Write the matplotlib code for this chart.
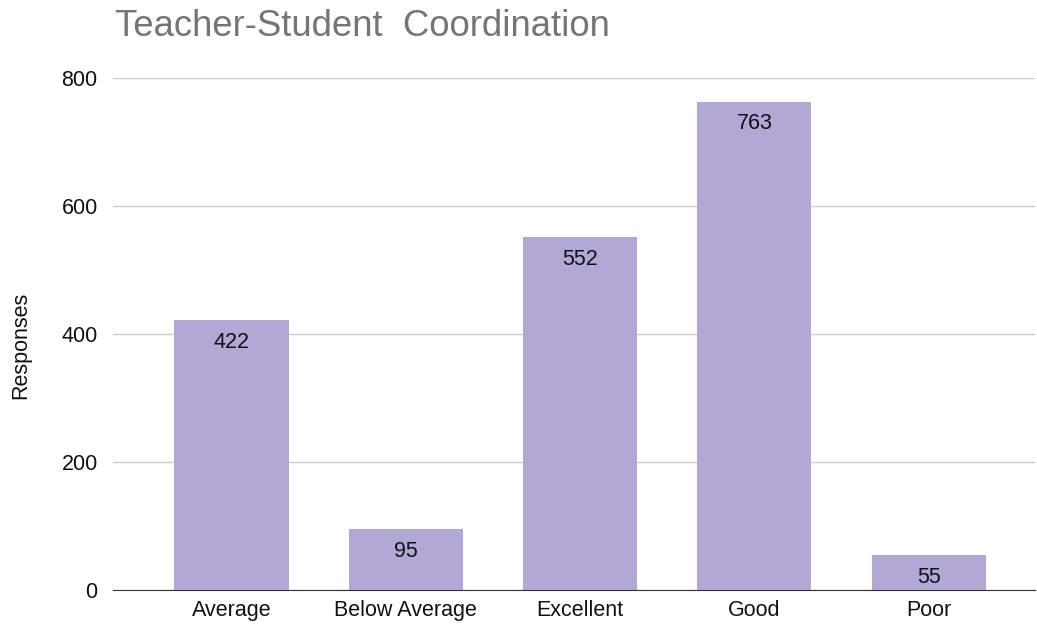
import numpy as np
import matplotlib.pyplot as plt

plt.rcParams['font.family'] = ['Liberation Sans', 'DejaVu Sans']

categories = ['Average', 'Below Average', 'Excellent', 'Good', 'Poor']
responses = [422, 95, 552, 763, 55]

fig = plt.figure(figsize=(10.37, 6.30), dpi=100)
ax = fig.add_axes([113 / 1037, 40 / 630, 922 / 1037, 512 / 630])

x = np.arange(len(categories))
bars = ax.bar(x, responses, width=0.655, color='#b3a7d6', zorder=2)

for b, v in zip(bars, responses):
    ax.annotate(str(v), (b.get_x() + b.get_width() / 2, v), xytext=(0, -8.5),
                textcoords='offset points', ha='center', va='top',
                fontsize=15.5, color='#111111')

ax.set_xlim(-0.68, 4.61)
ax.set_ylim(0, 800)
ax.set_yticks([0, 200, 400, 600, 800])
ax.set_xticks(x)
ax.set_xticklabels(categories)
ax.tick_params(axis='both', length=0, labelsize=15.5, colors='#111111')
ax.tick_params(axis='y', pad=11)
ax.tick_params(axis='x', pad=7)

ax.grid(axis='y', color='#cccccc', linewidth=1, zorder=0)
for s in ['top', 'right', 'left']:
    ax.spines[s].set_visible(False)
ax.spines['bottom'].set_color('#333333')
ax.spines['bottom'].set_zorder(3)

ax.set_ylabel('Responses', fontsize=15.5, color='#111111')
ax.yaxis.set_label_coords(-0.089, 0.478)

fig.text(115 / 1037, 1 - 26 / 630, 'Teacher-Student  Coordination', fontsize=26.3,
         color='#757575', ha='left', va='center')

fig.savefig('out.png', dpi=100)
